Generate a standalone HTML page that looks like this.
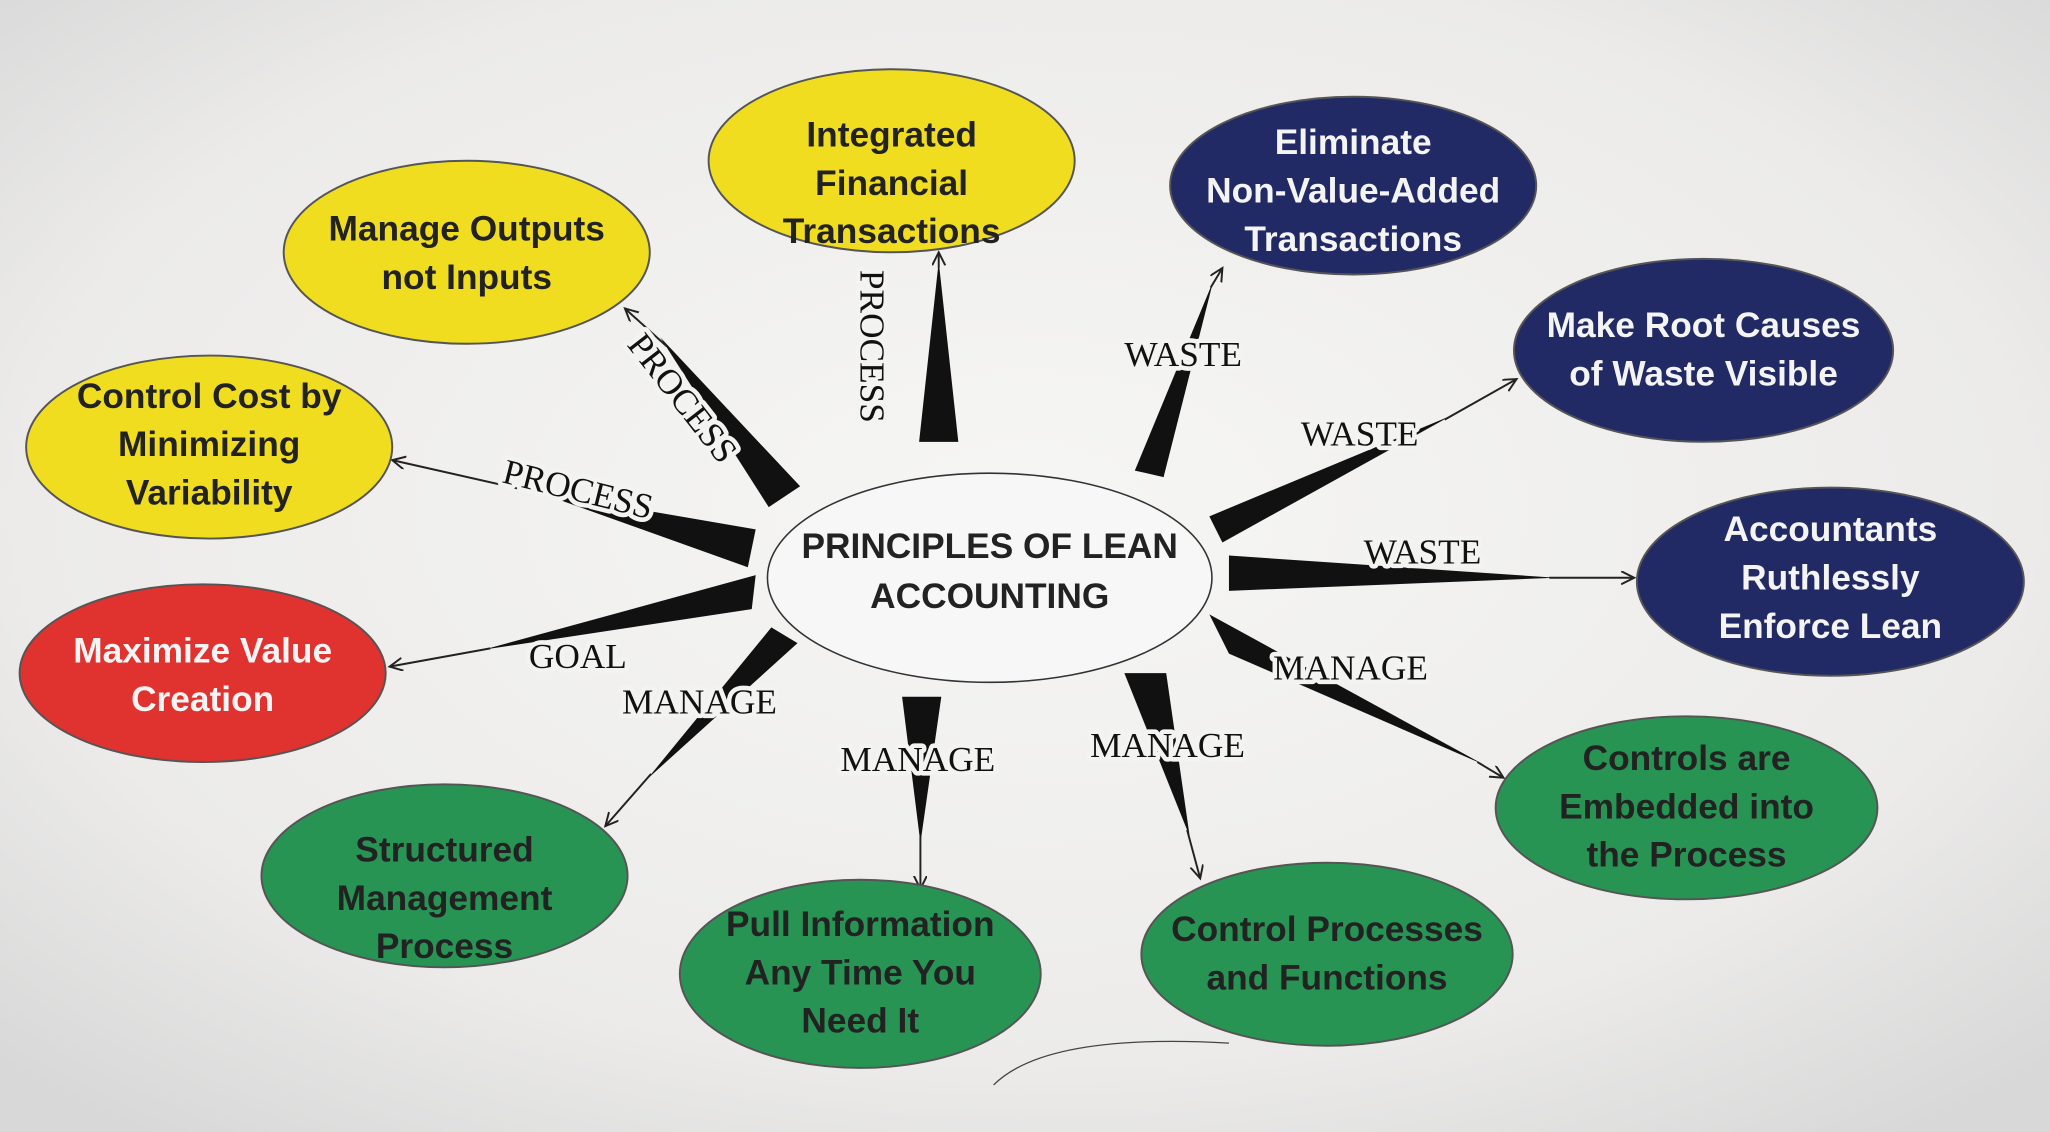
<!DOCTYPE html>
<html><head><style>
html,body{margin:0;padding:0;background:#e9e9e9;}
svg{display:block}
.t{font-family:"Liberation Sans",sans-serif;font-weight:bold;font-size:27px;text-anchor:middle}
.l{font-family:"Liberation Serif",serif;font-size:27px;text-anchor:middle;fill:#111;stroke:#f3f3f1;stroke-width:7px;paint-order:stroke;stroke-linejoin:round}
</style></head><body>
<svg width="2050" height="1132" viewBox="0 0 1568 866" preserveAspectRatio="none">
<defs>
<radialGradient id="bg" cx="50%" cy="45%" r="70%">
<stop offset="0" stop-color="#f6f6f4"/><stop offset="0.7" stop-color="#ecebea"/><stop offset="1" stop-color="#d8d8d8"/>
</radialGradient>
<marker id="a" markerWidth="12" markerHeight="12" refX="10" refY="5" orient="auto" markerUnits="userSpaceOnUse">
<path d="M0,0 L10,5 L0,10" fill="none" stroke="#222" stroke-width="1.5"/></marker>
</defs>
<rect width="1568" height="866" fill="url(#bg)"/>
<ellipse cx="757" cy="442" rx="170" ry="80" fill="#f7f7f7" stroke="#333" stroke-width="1.2"/>
<text class="t" x="757" y="427" fill="#222">PRINCIPLES OF LEAN</text>
<text class="t" x="757" y="465" fill="#222">ACCOUNTING</text>
<g fill="#111">
<polygon points="703,338 733,338 718,200"/>
<polygon points="588,388 612,372 505,258"/>
<polygon points="578,405 572,434 410,376"/>
<polygon points="578,440 575,466 370,497"/>
<polygon points="590,480 610,492 495,596"/>
<polygon points="690,533 720,533 704,645"/>
<polygon points="860,515 892,515 910,640"/>
<polygon points="925,470 940,500 1135,585"/>
<polygon points="940,425 940,452 1190,442"/>
<polygon points="925,395 935,415 1110,318"/>
<polygon points="868,360 890,365 928,215"/>
</g>
<g stroke="#222" stroke-width="1.5" marker-end="url(#a)">
<line x1="718" y1="205" x2="718" y2="193"/>
<line x1="510" y1="265" x2="478" y2="236"/>
<line x1="415" y1="378" x2="300" y2="352"/>
<line x1="375" y1="496" x2="298" y2="510"/>
<line x1="498" y1="592" x2="463" y2="632"/>
<line x1="704" y1="640" x2="704" y2="680"/>
<line x1="908" y1="635" x2="918" y2="672"/>
<line x1="1130" y1="583" x2="1150" y2="595"/>
<line x1="1185" y1="442" x2="1250" y2="442"/>
<line x1="1105" y1="321" x2="1160" y2="290"/>
<line x1="926" y1="220" x2="935" y2="205"/>
</g>
<g>
<text class="l" transform="translate(658,265) rotate(90)">PROCESS</text>
<text class="l" transform="translate(515,310) rotate(52)">PROCESS</text>
<text class="l" transform="translate(440,383) rotate(14)">PROCESS</text>
<text class="l" x="442" y="511">GOAL</text>
<text class="l" x="535" y="546">MANAGE</text>
<text class="l" x="702" y="590">MANAGE</text>
<text class="l" x="893" y="579">MANAGE</text>
<text class="l" x="1033" y="520">MANAGE</text>
<text class="l" x="1088" y="431">WASTE</text>
<text class="l" x="1040" y="341">WASTE</text>
<text class="l" x="905" y="280">WASTE</text>
</g>
<g stroke="#555" stroke-width="1.5">
<ellipse cx="682" cy="123" rx="140" ry="70" fill="#f1dd1f"/>
<ellipse cx="357" cy="193" rx="140" ry="70" fill="#f1dd1f"/>
<ellipse cx="160" cy="342" rx="140" ry="70" fill="#f1dd1f"/>
<ellipse cx="155" cy="515" rx="140" ry="68" fill="#e0322e"/>
<ellipse cx="340" cy="670" rx="140" ry="70" fill="#279454"/>
<ellipse cx="658" cy="745" rx="138" ry="72" fill="#279454"/>
<ellipse cx="1015" cy="730" rx="142" ry="70" fill="#279454"/>
<ellipse cx="1290" cy="618" rx="146" ry="70" fill="#279454"/>
<ellipse cx="1400" cy="445" rx="148" ry="72" fill="#222a66"/>
<ellipse cx="1303" cy="268" rx="145" ry="70" fill="#222a66"/>
<ellipse cx="1035" cy="142" rx="140" ry="68" fill="#222a66"/>
</g>
<g fill="#222">
<text class="t" x="682" y="112">Integrated</text>
<text class="t" x="682" y="149">Financial</text>
<text class="t" x="682" y="186">Transactions</text>
<text class="t" x="357" y="184">Manage Outputs</text>
<text class="t" x="357" y="221">not Inputs</text>
<text class="t" x="160" y="312">Control Cost by</text>
<text class="t" x="160" y="349">Minimizing</text>
<text class="t" x="160" y="386">Variability</text>
<text class="t" x="340" y="659">Structured</text>
<text class="t" x="340" y="696">Management</text>
<text class="t" x="340" y="733">Process</text>
<text class="t" x="658" y="716">Pull Information</text>
<text class="t" x="658" y="753">Any Time You</text>
<text class="t" x="658" y="790">Need It</text>
<text class="t" x="1015" y="720">Control Processes</text>
<text class="t" x="1015" y="757">and Functions</text>
<text class="t" x="1290" y="589">Controls are</text>
<text class="t" x="1290" y="626">Embedded into</text>
<text class="t" x="1290" y="663">the Process</text>
</g>
<g fill="#f4f4f4">
<text class="t" x="155" y="507">Maximize Value</text>
<text class="t" x="155" y="544">Creation</text>
<text class="t" x="1400" y="414">Accountants</text>
<text class="t" x="1400" y="451">Ruthlessly</text>
<text class="t" x="1400" y="488">Enforce Lean</text>
<text class="t" x="1303" y="258">Make Root Causes</text>
<text class="t" x="1303" y="295">of Waste Visible</text>
<text class="t" x="1035" y="118">Eliminate</text>
<text class="t" x="1035" y="155">Non-Value-Added</text>
<text class="t" x="1035" y="192">Transactions</text>
</g>
<path d="M760,830 Q800,790 940,798" fill="none" stroke="#444" stroke-width="1"/>
</svg>
</body></html>
